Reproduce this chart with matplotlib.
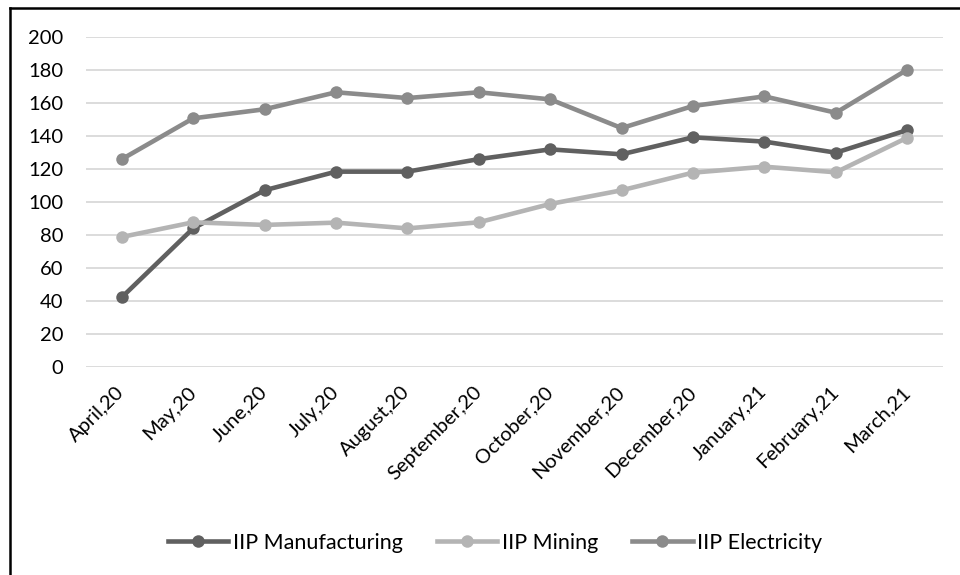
import matplotlib
matplotlib.use("Agg")
import matplotlib.pyplot as plt
from matplotlib.lines import Line2D

plt.rcParams['font.family'] = ['Lato', 'DejaVu Sans']

months = ["April,20", "May,20", "June,20", "July,20", "August,20", "September,20",
          "October,20", "November,20", "December,20", "January,21", "February,21", "March,21"]
iip_manufacturing = [42.2, 84.0, 107.1, 118.4, 118.4, 126.0, 131.9, 128.9, 139.2, 136.6, 129.9, 143.6]
iip_mining = [78.8, 87.7, 86.1, 87.5, 84.0, 87.7, 98.8, 107.1, 117.8, 121.4, 118.0, 139.0]
iip_electricity = [125.9, 150.7, 156.2, 166.5, 163.0, 166.5, 162.2, 144.8, 158.2, 164.0, 154.1, 180.2]
y_ticks = [0, 20, 40, 60, 80, 100, 120, 140, 160, 180, 200]

series = [
    ("IIP Manufacturing", iip_manufacturing, "#606060"),
    ("IIP Mining", iip_mining, "#b4b4b4"),
    ("IIP Electricity", iip_electricity, "#8b8b8b"),
]

W, H = 960, 575
fig = plt.figure(figsize=(W / 100, H / 100), dpi=100)
ax = fig.add_axes([86 / W, 1 - 367 / H, (943 - 86) / W, (367 - 37) / H])

x = list(range(len(months)))
for name, vals, col in series:
    ax.plot(x, vals, color=col, lw=3.3, marker="o", markersize=9,
            markeredgewidth=0, label=name, solid_capstyle="round", zorder=3)

ax.set_xlim(-0.5, len(months) - 0.5)
ax.set_ylim(0, 200)
ax.set_yticks(y_ticks)
ax.yaxis.grid(True, color="#d9d9d9", lw=1.3, zorder=0)
ax.set_axisbelow(True)
for s in ax.spines.values():
    s.set_visible(False)
ax.tick_params(axis="both", length=0, labelsize=14.5, colors="black")
ax.tick_params(axis="y", pad=16.5)
ax.set_xticks(x)
ax.set_xticklabels(months, rotation=45, ha="right", va="center", rotation_mode="anchor")
ax.tick_params(axis="x", pad=16)

handles = [Line2D([0], [0], color=c, lw=3.3, marker="o", markersize=9, markeredgewidth=0)
           for _, _, c in series]
fig.legend(handles, [n for n, _, _ in series], loc="center", bbox_to_anchor=(495 / W, 1 - 543 / H),
           ncol=3, frameon=False, fontsize=15.5, handlelength=2.8, columnspacing=1.6,
           handletextpad=0.2)

# figure frame: left and top edges
fig.add_artist(Line2D([10 / W, 1], [1 - 7.5 / H, 1 - 7.5 / H], color="black", lw=1.8,
                      transform=fig.transFigure))
fig.add_artist(Line2D([10 / W, 10 / W], [0, 1 - 7.5 / H], color="black", lw=1.8,
                      transform=fig.transFigure))

fig.savefig("out.png", dpi=100)
